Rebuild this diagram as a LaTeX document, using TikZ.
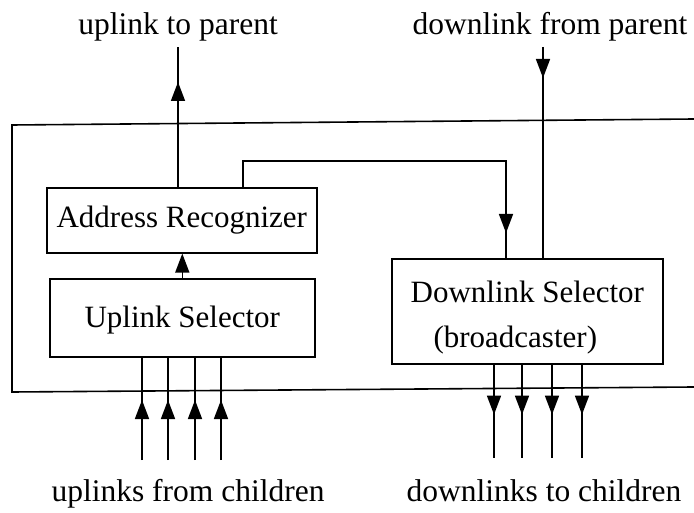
\documentclass[tikz,border=0pt]{standalone}
\usepackage{fontspec}
\setmainfont{Liberation Serif}
\usetikzlibrary{arrows.meta,decorations.markings}
\begin{document}
\begin{tikzpicture}[x=1pt,y=-1pt,
  line width=1.6pt,
  box/.style={draw, line width=1.6pt, inner sep=0pt, anchor=north west, align=center,
    font=\fontsize{31}{45}\selectfont},
  lbl/.style={anchor=base, inner sep=0pt, font=\fontsize{31.5}{36}\selectfont},
  tipend/.style={-{Triangle[width=14pt,length=19pt]}},
  midarrow/.style={postaction={decorate}, decoration={markings,
    mark=at position #1 with {\arrow{Triangle[width=14pt,length=19pt]}}}},
]
\useasboundingbox (0,0) rectangle (694,513);

% outer frame
\draw (694,119) -- (12,125) -- (12,392) -- (694,387);

% boxes
\node[box, minimum width=270pt, text height=40pt, text depth=25pt] (ar) at (46,187) {Address Recognizer};
\node[box, minimum width=265pt, text height=49pt, text depth=29pt] (us) at (49,278) {Uplink Selector};
\node[box, minimum width=271pt] (ds) at (391,258)
  {\rule{0pt}{44pt}Downlink Selector\\(broadcaster)\hspace*{24pt}\rule[-16pt]{0pt}{16pt}};

% labels
\node[lbl] (t1) at (178,35) {uplink to parent};
\node[lbl] (t2) at (550,35) {downlink from parent};
\node[lbl] (t3) at (188,501) {uplinks from children};
\node[lbl] (t4) at (544,501) {downlinks to children};

% uplink to parent
\coordinate (up) at (178,47);
\draw[midarrow=105pt] (ar.north -| up) -- (up);

% uplink selector -> address recognizer
\draw[tipend] (us.north) -- (us.north |- ar.south);

% address recognizer -> downlink selector
\coordinate (k1) at (243,161);
\coordinate (k2) at (506,161);
\draw[midarrow=361pt] (ar.north -| k1) -- (k1) -- (k2) -- (ds.north -| k2);

% downlink from parent
\coordinate (dp) at (543,47);
\draw[midarrow=31pt] (dp) -- (ds.north -| dp);

% uplinks from children
\foreach \x in {142,168,195,221} {
  \coordinate (uc\x) at (\x,460);
  \draw[midarrow=60pt] (uc\x) -- (us.south -| uc\x);
}
% downlinks to children
\foreach \x in {494,522,552,582} {
  \coordinate (dc\x) at (\x,458);
  \draw[midarrow=50pt] (ds.south -| dc\x) -- (dc\x);
}
\end{tikzpicture}
\end{document}
